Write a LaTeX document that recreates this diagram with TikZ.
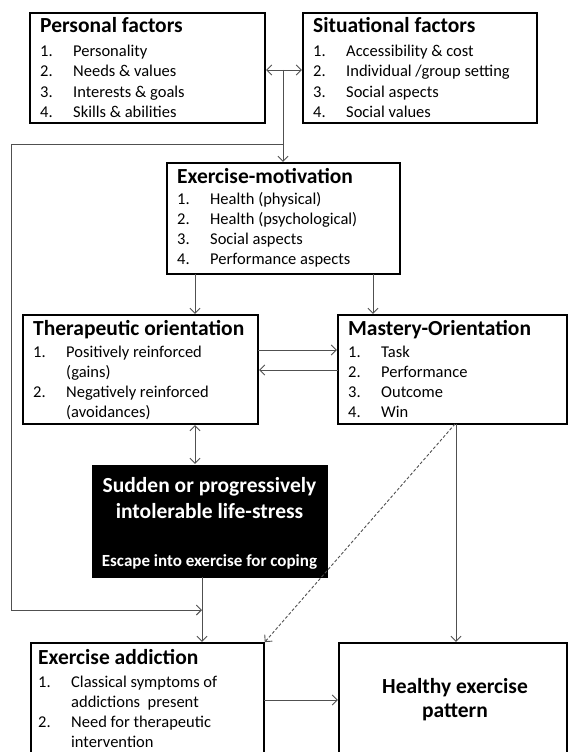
\documentclass[tikz,border=0pt]{standalone}
\usepackage{fontspec}
\setmainfont{Carlito}
\usetikzlibrary{arrows.meta}
\definecolor{connc}{HTML}{505050}
\newcommand\bxitem[5]{% name, x, y, number, text
  \node[itm] (#1n) at (#2,#3) {#4};
  \node[itm] (#1t) at (#2+33,#3) {#5};}
\tikzset{
  >={Straight Barb[length=5pt,width=10pt]},
  box/.style={draw=black, line width=2.4pt, inner sep=0pt, outer sep=0pt, anchor=north west},
  darkbox/.style={fill=black, draw=black, line width=1pt, inner sep=0pt, outer sep=0pt, anchor=north west},
  ttl/.style={font=\fontsize{21.5}{24}\selectfont\bfseries, anchor=base west, inner sep=0pt},
  itm/.style={font=\fontsize{16.5}{20}\selectfont, anchor=base west, inner sep=0pt},
  wtxt/.style={text=white, anchor=base, inner sep=0pt},
  htxt/.style={font=\fontsize{21.5}{24}\selectfont\bfseries, anchor=base, inner sep=0pt},
  conn/.style={draw=connc, line width=0.9pt, shorten >=1.2pt},
}
\begin{document}
\begin{tikzpicture}[x=1pt,y=-1pt]
\useasboundingbox (0,0) rectangle (569,752);
\clip (0,0) rectangle (569,752);
\fill[white] (0,0) rectangle (569,752);
% boxes
\node[box, minimum width=235pt, minimum height=110pt] (pf) at (30,13) {};
\node[box, minimum width=234pt, minimum height=110pt] (sf) at (303,13) {};
\node[box, minimum width=233pt, minimum height=111pt] (em) at (167,163) {};
\node[box, minimum width=235pt, minimum height=109pt] (to) at (23,315) {};
\node[box, minimum width=229pt, minimum height=109pt] (mo) at (338,315) {};
\node[darkbox, minimum width=235pt, minimum height=112pt] (su) at (92,465) {};
\node[box, minimum width=233pt, minimum height=130pt] (ea) at (31,643) {};
\node[box, minimum width=228pt, minimum height=130pt] (he) at (339,643) {};
% Personal factors
\node[ttl] (pft) at (40,33) {Personal factors};
\bxitem{pfa}{40}{57}{1.}{Personality}
\bxitem{pfb}{40}{77}{2.}{Needs \& values}
\bxitem{pfc}{40}{97}{3.}{Interests \& goals}
\bxitem{pfd}{40}{117}{4.}{Skills \& abilities}
% Situational factors
\node[ttl] (sft) at (313,33) {Situational factors};
\bxitem{sfa}{313}{57}{1.}{Accessibility \& cost}
\bxitem{sfb}{313}{77}{2.}{Individual /group setting}
\bxitem{sfc}{313}{97}{3.}{Social aspects}
\bxitem{sfd}{313}{117}{4.}{Social values}
% Exercise motivation
\node[ttl] (emt) at (177,183) {Exercise-motivation};
\bxitem{ema}{177}{204}{1.}{Health (physical)}
\bxitem{emb}{177}{224}{2.}{Health (psychological)}
\bxitem{emc}{177}{244}{3.}{Social aspects}
\bxitem{emd}{177}{264}{4.}{Performance aspects}
% Therapeutic orientation
\node[ttl] (tot) at (33,335) {Therapeutic orientation};
\bxitem{toa}{33}{357}{1.}{Positively reinforced}
\node[itm] (tob) at (66,377) {(gains)};
\bxitem{toc}{33}{397}{2.}{Negatively reinforced}
\node[itm] (tod) at (66,417) {(avoidances)};
% Mastery orientation
\node[ttl] (mot) at (348,335) {Mastery-Orientation};
\bxitem{moa}{348}{357}{1.}{Task}
\bxitem{mob}{348}{377}{2.}{Performance}
\bxitem{moc}{348}{397}{3.}{Outcome}
\bxitem{mod}{348}{417}{4.}{Win}
% Sudden
\node[wtxt, font=\fontsize{21.5}{24}\selectfont\bfseries] (sua) at (209.5,492) {Sudden or progressively};
\node[wtxt, font=\fontsize{21.5}{24}\selectfont\bfseries] (sub) at (209.5,518) {intolerable life-stress};
\node[wtxt, font=\fontsize{17}{20}\selectfont\bfseries] (suc) at (209.5,566) {Escape into exercise for coping};
% Exercise addiction
\node[ttl] (eat) at (38,664) {Exercise addiction};
\bxitem{eaa}{38}{687}{1.}{Classical symptoms of}
\node[itm] (eab) at (71,707) {addictions\ \ present};
\bxitem{eac}{38}{727}{2.}{Need for therapeutic}
\node[itm] (ead) at (71,747) {intervention};
% Healthy
\node[htxt] (hea) at (455,693) {Healthy exercise};
\node[htxt] (heb) at (455,717) {pattern};
% connectors
\coordinate (j1) at (283,70);
\coordinate (j2) at (283,144);
\coordinate (l1) at (11,144);
\coordinate (l2) at (11,610);
\coordinate (j3) at (202,610);
\draw[conn,<->, shorten <=1.2pt] (pf.east |- j1) -- (sf.west |- j1);
\draw[conn,->] (j1) -- (em.north -| j1);
\draw[conn,->, shorten >=0pt] (j2) -- (l1) -- (l2) -- (j3);
\draw[conn,->] (em.south -| 195,0) -- (to.north -| 195,0);
\draw[conn,->] (em.south -| 373,0) -- (mo.north -| 373,0);
\draw[conn,->] (to.east |- 0,350) -- (mo.west |- 0,350);
\draw[conn,->] (mo.west |- 0,370) -- (to.east |- 0,370);
\draw[conn,<->, shorten <=1.2pt] (to.south -| 195,0) -- (su.north -| 195,0);
\draw[conn,->] (su.south -| 202,0) -- (ea.north -| 202,0);
\draw[conn,->] (mo.south -| 456,0) -- (he.north -| 456,0);
\draw[conn,->,dash pattern=on 3pt off 2pt] (mo.south -| 455,0) -- (ea.north east);
\draw[conn,->] (ea.east |- 0,700) -- (he.west |- 0,700);
\end{tikzpicture}
\end{document}
